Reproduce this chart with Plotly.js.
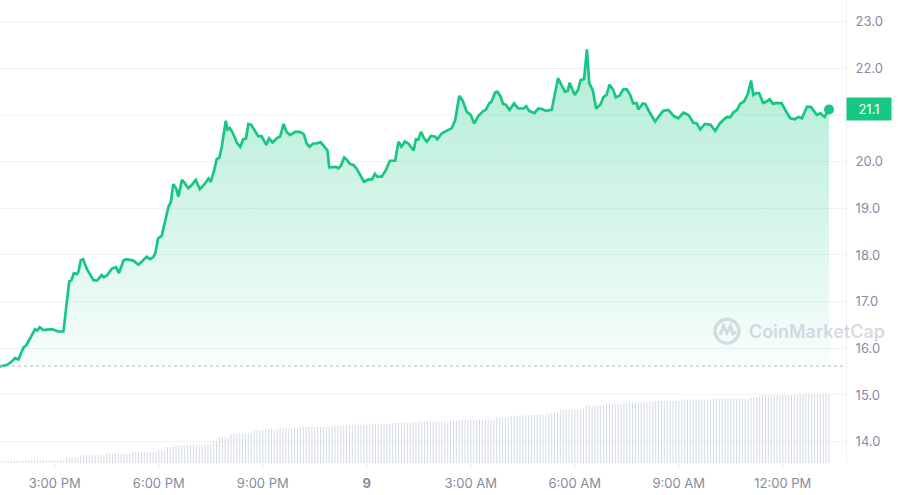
<!DOCTYPE html>
<html>
<head>
<meta charset="utf-8">
<script src="https://cdn.plot.ly/plotly-3.0.1.min.js"></script>
<style>
  html, body { margin: 0; padding: 0; background: #ffffff; }
  #chart { width: 898px; height: 495px; }
</style>
</head>
<body>
<div id="chart"></div>
<script>
// ---- data ----
const startTime = '2024-06-08 13:20:00';           // first sample
const minutesFromStart = [0,5,17,25,31,37,46,51,66,70,74,80,95,106,115,125,129,133,138,141,145,149,156,167,173,178,181,185,191,199,206,211,219,224,236,245,253,259,265,271,274,279,285,291,297,301,305,310,314,320,325,331,337,344,351,358,366,370,376,380,385,389,392,396,399,403,408,415,421,426,431,435,440,447,452,458,466,471,477,484,490,496,501,507,516,524,531,536,541,547,553,560,568,572,575,582,587,591,595,601,605,611,617,623,628,635,643,649,654,658,666,673,680,689,695,700,706,712,721,725,729,734,739,744,751,758,762,770,778,787,793,800,806,813,820,826,833,842,846,852,856,862,866,871,876,881,887,895,902,911,916,921,930,937,943,950,960,965,971,977,983,988,991,995,1000,1006,1010,1016,1021,1025,1031,1037,1044,1050,1055,1060,1066,1071,1077,1084,1090,1096,1101,1107,1110,1118,1122,1129,1139,1146,1153,1162,1171,1179,1188,1197,1205,1211,1217,1225,1235,1243,1251,1260,1264,1269,1274,1281,1286,1293,1300,1305,1309,1314,1319,1326,1332,1337,1343,1349,1358,1367,1373,1381,1387,1393,1402,1409,1419,1425,1432,1440];
const prices = [15.62,15.61,15.64,15.71,15.79,15.76,16.02,16.07,16.41,16.38,16.45,16.39,16.41,16.36,16.36,17.43,17.46,17.61,17.59,17.64,17.89,17.91,17.69,17.46,17.45,17.53,17.57,17.52,17.57,17.71,17.74,17.61,17.88,17.91,17.88,17.79,17.88,17.96,17.91,17.96,18.05,18.36,18.41,18.75,19.04,19.14,19.52,19.43,19.25,19.61,19.54,19.43,19.50,19.61,19.41,19.50,19.64,19.57,19.82,20.05,20.09,20.32,20.54,20.88,20.69,20.72,20.62,20.41,20.32,20.48,20.50,20.81,20.79,20.64,20.55,20.55,20.36,20.50,20.41,20.50,20.54,20.81,20.64,20.57,20.64,20.64,20.59,20.39,20.32,20.39,20.39,20.42,20.29,20.24,19.88,19.88,19.89,19.86,19.91,20.09,20.05,19.95,19.93,19.84,19.74,19.57,19.62,19.62,19.74,19.68,19.68,19.82,20.02,20.02,20.43,20.32,20.43,20.39,20.24,20.48,20.47,20.64,20.50,20.43,20.55,20.54,20.48,20.61,20.66,20.72,20.89,21.41,21.31,21.07,21.00,20.82,20.98,21.09,21.11,21.25,21.29,21.48,21.50,21.41,21.24,21.22,21.11,21.25,21.14,21.14,21.19,21.09,21.04,21.14,21.13,21.09,21.11,21.39,21.79,21.64,21.50,21.52,21.69,21.57,21.43,21.55,21.75,21.77,22.41,21.68,21.54,21.14,21.22,21.39,21.43,21.65,21.55,21.38,21.41,21.55,21.55,21.43,21.25,21.26,21.12,21.25,21.24,21.07,20.86,20.98,21.09,21.11,20.98,20.93,21.05,21.00,20.84,20.82,20.69,20.81,20.79,20.66,20.82,20.93,20.96,20.95,21.05,21.11,21.24,21.29,21.47,21.74,21.43,21.47,21.47,21.26,21.29,21.34,21.24,21.26,21.25,21.05,20.93,20.91,20.96,20.93,21.18,21.17,21.00,21.04,20.96,21.12];
const openPrice = 15.62;                             // dotted reference line
const volumeStepMinutes = 5;
const volume = [
 20,20,20,20,20,20,20,20,20,
 27,27,27,27,27,27,27,27,27,27,27,27,27,27,27,
 53,53,53,53,53,
 77,77,77,77,77,77,77,77,77,
 93,93,93,93,93,93,93,93,93,
 110,110,110,110,110,110,110,110,110,
 127,127,127,
 160,160,
 172,174,174,176,177,177,178,180,181,182,183,185,186,188,
 217,217,
 260,260,260,260,
 293,293,293,293,293,293,293,293,
 327,327,327,
 337,337,337,337,337,337,
 350,350,350,350,350,350,350,
 360,360,360,360,360,360,360,360,360,360,360,
 370,370,370,370,370,370,
 383,383,383,383,383,383,
 393,393,393,393,393,393,393,393,393,
 403,403,403,403,403,403,403,403,
 413,413,413,413,413,413,413,413,413,413,413,413,
 420,420,420,
 433,433,433,433,433,433,433,433,433,433,433,433,433,
 453,453,453,453,453,
 470,471,473,474,476,477,478,480,481,483,484,486,487,489,
 500,500,500,
 533,533,533,533,533,533,533,533,533,
 577,577,577,577,577,577,577,
 593,593,593,593,593,593,
 607,607,607,607,607,607,607,607,607,607,607,
 620,620,620,620,620,620,620,620,620,
 633,633,633,633,633,633,633,633,633,633,633,
 643,643,643,643,643,643,643,643,643,643,643,643,643,
 660,660,660,660,
 677,677,677,677,677,677,677,677,677,677,677,677,677,677,
 687,687,687,687,687,687,687,687,687,687
];
const tickTimes = ['2024-06-08 15:00','2024-06-08 18:00','2024-06-08 21:00','2024-06-09 00:00',
                   '2024-06-09 03:00','2024-06-09 06:00','2024-06-09 09:00','2024-06-09 12:00'];
const tickLabels = ['3:00 PM','6:00 PM','9:00 PM','<b>9</b>','3:00 AM','6:00 AM','9:00 AM','12:00 PM'];
const yTicks = [14,15,16,17,18,19,20,22,23];   // 21.0 sits under the price tag
const hiddenTick = 21;

// ---- helpers ----
const base = Date.UTC(2024,5,8,13,20,0);
function stamp(min){ return new Date(base + min*60000).toISOString().slice(0,19).replace('T',' '); }
const times = minutesFromStart.map(stamp);
const volTimes = volume.map((_,i)=>stamp(i*volumeStepMinutes));
const lastT = times[times.length-1], lastP = prices[prices.length-1];

const green = '#16c784';
const labelGrey = '#858ca2';

const traces = [
  { // invisible baseline for the fill
    x:[times[0], lastT], y:[openPrice, openPrice], mode:'lines',
    line:{width:0, color:'rgba(0,0,0,0)'}, hoverinfo:'skip', showlegend:false
  },
  {
    x: times, y: prices, mode:'lines', fill:'tonexty',
    line:{color:green, width:2.7},
    fillgradient:{type:'vertical', start:openPrice, stop:21.6,
      colorscale:[[0,'rgba(22,199,132,0.03)'],[1,'rgba(22,199,132,0.30)']]},
    hoverinfo:'skip', showlegend:false
  },
  {
    x:[lastT], y:[lastP], mode:'markers', marker:{color:green, size:10},
    hoverinfo:'skip', showlegend:false, cliponaxis:false
  },
  {
    type:'bar', x: volTimes, y: volume, yaxis:'y2',
    marker:{color:'#d5dbe7', line:{width:0}}, hoverinfo:'skip', showlegend:false
  }
];

const xStart = stamp(5.2), xEnd = stamp(1469.4);
const layout = {
  width: 898, height: 495,
  margin:{l:0, r:52, t:0, b:32},
  paper_bgcolor:'#ffffff', plot_bgcolor:'#ffffff',
  font:{family:'Inter, "Open Sans", sans-serif', size:13, color:labelGrey},
  showlegend:false,
  bargap:0.64,
  xaxis:{
    type:'date', range:[xStart, xEnd], tickmode:'array', tickvals:tickTimes, ticktext:tickLabels,
    showgrid:false, zeroline:false, showline:false,
    ticks:'outside', ticklen:4, tickcolor:'#e6e9ef', tickwidth:1,
    tickfont:{size:13, color:labelGrey}, ticklabelstandoff:4, fixedrange:true
  },
  yaxis:{
    side:'right', range:[13.541, 23.466], tickmode:'array', tickvals:yTicks,
    tickformat:'.1f', showgrid:true, gridcolor:'#f0f2f6', gridwidth:1, zeroline:false,
    showline:true, linecolor:'#eceff4', linewidth:1, ticks:'', ticklabelstandoff:6,
    tickfont:{size:13, color:labelGrey}, fixedrange:true
  },
  yaxis2:{ overlaying:'y', range:[0, 4630], visible:false, fixedrange:true },
  shapes:[
    {type:'line', xref:'paper', x0:0, x1:1, yref:'y', y0:hiddenTick, y1:hiddenTick,
     line:{color:'#f0f2f6', width:1}, layer:'below'},
    {type:'line', xref:'paper', x0:0, x1:1, yref:'y', y0:openPrice, y1:openPrice,
     line:{color:'#b3b9c9', width:1.2, dash:'dot'}, layer:'above'},
    {type:'circle', xref:'paper', yref:'paper', xsizemode:'pixel', ysizemode:'pixel',
     xanchor:0.8593, yanchor:0.285, x0:-12, x1:12, y0:-12, y1:12,
     line:{color:'rgba(170,178,198,0.45)', width:3.2}},
    {type:'path', xref:'paper', yref:'paper', xsizemode:'pixel', ysizemode:'pixel',
     xanchor:0.8593, yanchor:0.285,
     path:'M -7 -4 L -3.5 5 L 0 -2 L 3.5 5 L 6 -3 L 9 -1',
     line:{color:'rgba(170,178,198,0.45)', width:3}}
  ],
  annotations:[
    {xref:'paper', x:1, xanchor:'left', xshift:0, yref:'y', y:lastP, yanchor:'middle',
     text: lastP.toFixed(1), showarrow:false, bgcolor:green, font:{color:'#ffffff', size:13},
     width:42, height:20, borderpad:1, align:'center'},
    {xref:'paper', x:747/846, xanchor:'left', yref:'paper', y:0.285, yanchor:'middle',
     text:'CoinMarketCap', showarrow:false,
     font:{family:'Inter, sans-serif', size:18, color:'rgba(165,173,195,0.45)', weight:600}}
  ]
};

Plotly.newPlot('chart', traces, layout, {displayModeBar:false, staticPlot:true});
</script>
</body>
</html>
